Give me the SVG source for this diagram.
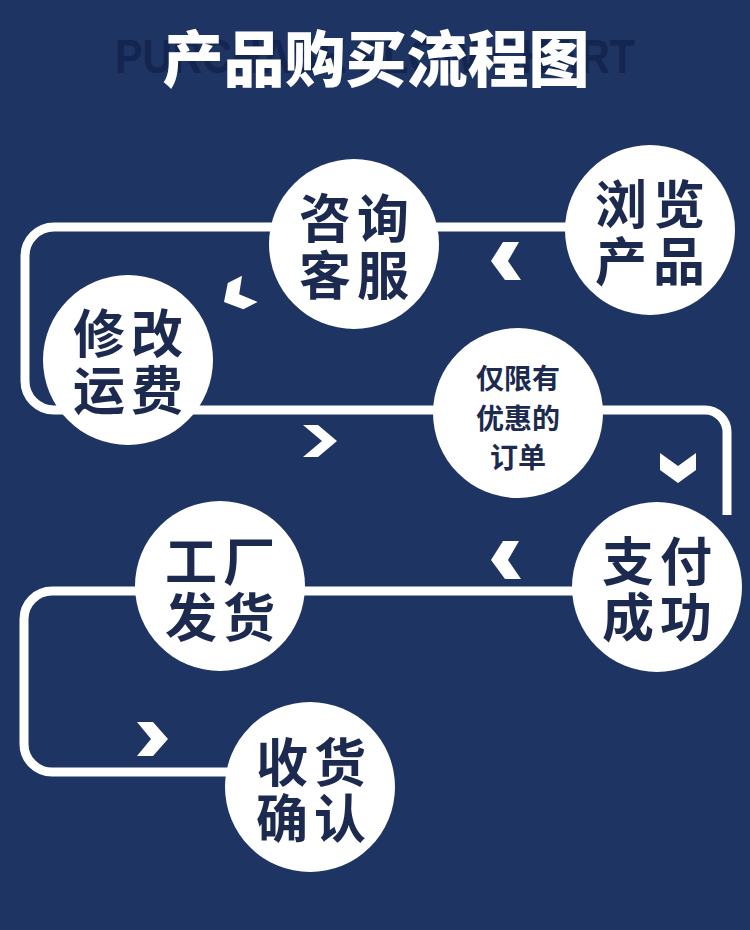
<svg xmlns="http://www.w3.org/2000/svg" width="750" height="930" viewBox="0 0 750 930">
  <style>
    .bg { fill: #1e3462; }
    .conn { fill: none; stroke: #ffffff; stroke-width: 9; stroke-linejoin: round; }
    .chev { fill: #ffffff; }
    .node circle { fill: #ffffff; }
    .big { font-family: "Noto Sans CJK SC", "Noto Sans", sans-serif; font-size: 52px; font-weight: 700; fill: #1b2a4e; text-anchor: middle; dominant-baseline: central; }
    .small { font-family: "Noto Sans CJK SC", "Noto Sans", sans-serif; font-size: 28px; font-weight: 700; fill: #1b2a4e; text-anchor: middle; dominant-baseline: central; }
    .title { font-family: "Noto Sans CJK SC", "Noto Sans", sans-serif; font-size: 61px; font-weight: 900; fill: #ffffff; text-anchor: middle; dominant-baseline: central; }
    .subtitle { font-family: "Liberation Sans", Arial, sans-serif; font-size: 48px; font-weight: 700; fill: #14254f; }
  </style>
  <defs>
    <polygon id="chevL" points="12,-19 28,-19 17,0 30,19 14,19 0,0"/>
  </defs>
  <rect class="bg" x="0" y="0" width="750" height="930"/>

  <g id="title">
    <text class="subtitle" x="115" y="73" textLength="520" lengthAdjust="spacingAndGlyphs">PURCHASE FLOW CHART</text>
    <text class="title" x="376" y="55">产品购买流程图</text>
  </g>

  <g id="connectors">
    <path class="conn" d="M 570 227 H 54 A 29 29 0 0 0 25 256 V 381 A 29 29 0 0 0 54 410 H 705 A 22 22 0 0 1 727 432 V 515"/>
    <path class="conn" d="M 600 591 H 52 A 28 28 0 0 0 24 619 V 744 A 28 28 0 0 0 52 772 H 240"/>
    <use class="chev" href="#chevL" transform="translate(491,261)"/>
    <use class="chev" href="#chevL" transform="translate(224,302) rotate(-27) scale(1,0.8)"/>
    <polygon class="chev" points="303,425 318,425 337,441 318,457 303,457 322,441"/>
    <polygon class="chev" points="660,453 678,466 696,453 696,470 678,483 660,470"/>
    <use class="chev" href="#chevL" transform="translate(491,560)"/>
    <polygon class="chev" points="137,722 153,722 168,739 153,756 137,756 151,739"/>
  </g>

  <g id="node-browse" class="node">
    <circle cx="650" cy="230" r="85"/>
    <text class="big"><tspan x="621 679" y="201">浏览</tspan><tspan x="621 679" y="258">产品</tspan></text>
  </g>

  <g id="node-consult" class="node">
    <circle cx="354" cy="244" r="85"/>
    <text class="big"><tspan x="325 383" y="215">咨询</tspan><tspan x="325 383" y="272">客服</tspan></text>
  </g>

  <g id="node-shipping" class="node">
    <circle cx="128" cy="360" r="85"/>
    <text class="big"><tspan x="99 157" y="330">修改</tspan><tspan x="99 157" y="387">运费</tspan></text>
  </g>

  <g id="node-discount" class="node">
    <circle cx="518" cy="413" r="85"/>
    <text class="small"><tspan x="518" y="377">仅限有</tspan><tspan x="518" y="417">优惠的</tspan><tspan x="518" y="456">订单</tspan></text>
  </g>

  <g id="node-paid" class="node">
    <circle cx="657" cy="587" r="85"/>
    <text class="big"><tspan x="628 686" y="558">支付</tspan><tspan x="628 686" y="614">成功</tspan></text>
  </g>

  <g id="node-factory" class="node">
    <circle cx="220" cy="586" r="85"/>
    <text class="big"><tspan x="191 249" y="558">工厂</tspan><tspan x="191 249" y="614">发货</tspan></text>
  </g>

  <g id="node-receive" class="node">
    <circle cx="310" cy="787" r="85"/>
    <text class="big"><tspan x="282 340" y="759">收货</tspan><tspan x="282 340" y="815">确认</tspan></text>
  </g>
</svg>
